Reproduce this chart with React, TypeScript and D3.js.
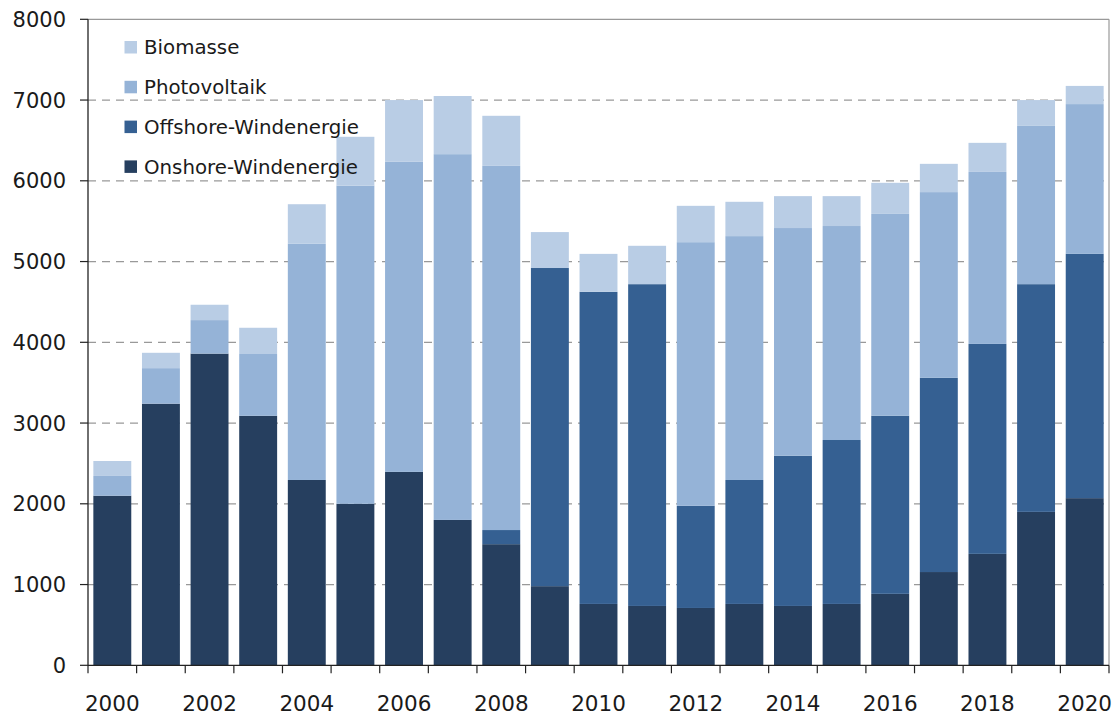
import React from "react";
import * as d3 from "d3";

const years = ["2000","2001","2002","2003","2004","2005","2006","2007","2008","2009","2010","2011","2012","2013","2014","2015","2016","2017","2018","2019","2020"];
const onshore = [2100,3240,3860,3090,2295,2000,2395,1800,1500,980,760,735,710,760,735,760,885,1155,1380,1900,2070];
const offshore = [0,0,0,0,0,0,0,0,175,3940,3865,3985,1265,1535,1860,2030,2205,2405,2600,2820,3025];
const photovoltaik = [245,440,415,765,2925,3940,3840,4530,4510,0,0,0,3265,3020,2820,2650,2500,2300,2130,1960,1855];
const biomasse = [185,190,190,325,490,605,765,720,620,445,470,475,450,425,395,370,385,350,360,320,225];
const yTicks = [0,1000,2000,3000,4000,5000,6000,7000,8000];
const xLabels = ["2000","2002","2004","2006","2008","2010","2012","2014","2016","2018","2020"];

const seriesNames = ["Onshore-Windenergie","Offshore-Windenergie","Photovoltaik","Biomasse"];
const seriesColors = ["#263F5F","#356092","#95B3D7","#B9CDE5"];

export default function App() {
  const W = 1115, H = 716;
  const left = 88, right = 1109, top = 19.3, bottom = 665.3;
  const x = d3.scaleBand<string>().domain(years).range([left, right]).paddingInner(0.22).paddingOuter(0.11);
  const y = d3.scaleLinear().domain([0, 8000]).range([bottom, top]);
  const table = years.map((yr, i) => ({
    year: yr,
    "Onshore-Windenergie": onshore[i],
    "Offshore-Windenergie": offshore[i],
    "Photovoltaik": photovoltaik[i],
    "Biomasse": biomasse[i],
  }));
  const stacked = d3.stack<any>().keys(seriesNames)(table);
  const step = x.step();
  const boundaries = d3.range(years.length + 1).map(i => left + i * step);
  const font = "'DejaVu Sans', sans-serif";

  return (
    <svg width={W} height={H} style={{ position: "absolute", left: 0, top: 0, background: "#fff" }}>
      {yTicks.filter(t => t > 0 && t < 8000).map(t => (
        <line key={t} x1={left} x2={right} y1={y(t)} y2={y(t)} stroke="#999" strokeWidth={1.2} strokeDasharray="8,6" />
      ))}
      <line x1={left} x2={right} y1={y(8000)} y2={y(8000)} stroke="#999" strokeWidth={1.2} />
      <line x1={right} x2={right} y1={y(8000)} y2={bottom} stroke="#999" strokeWidth={1.2} />
      {stacked.map((s, si) => (
        <g key={s.key} fill={seriesColors[si]}>
          {s.map((d, i) => (
            d[1] - d[0] > 0 ? (
              <rect key={i} x={x(years[i])} width={x.bandwidth()} y={y(d[1])} height={y(d[0]) - y(d[1])} />
            ) : null
          ))}
        </g>
      ))}
      <line x1={left} x2={left} y1={top} y2={bottom} stroke="#222" strokeWidth={1.3} />
      <line x1={left} x2={right} y1={bottom} y2={bottom} stroke="#222" strokeWidth={1.3} />
      {yTicks.map(t => (
        <g key={t}>
          <line x1={left - 8} x2={left} y1={y(t)} y2={y(t)} stroke="#222" strokeWidth={1.2} />
          <text x={66} y={y(t)} dy="0.36em" textAnchor="end" fontFamily={font} fontSize={21} fill="#1a1a1a">{t}</text>
        </g>
      ))}
      {boundaries.map((b, i) => (
        <line key={i} x1={b} x2={b} y1={bottom} y2={bottom + 8} stroke="#222" strokeWidth={1.2} />
      ))}
      {xLabels.map(l => (
        <text key={l} x={(x(l) as number) + x.bandwidth() / 2} y={711} textAnchor="middle" fontFamily={font} fontSize={21.5} fill="#1a1a1a">{l}</text>
      ))}
      {[3, 2, 1, 0].map((si, k) => {
        const cy = 47 + k * 39.8;
        return (
          <g key={si}>
            <rect x={124.5} y={cy - 6} width={12.5} height={12.5} fill={seriesColors[si]} />
            <text x={144} y={cy} dy="0.36em" fontFamily={font} fontSize={19.8} fill="#1a1a1a">{seriesNames[si]}</text>
          </g>
        );
      })}
    </svg>
  );
}
